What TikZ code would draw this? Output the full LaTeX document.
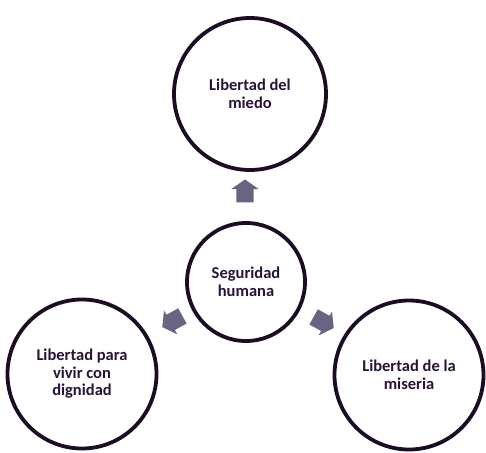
\documentclass[tikz,border=0pt]{standalone}
\usepackage{fontspec}
\setmainfont{Carlito}
\usetikzlibrary{shapes.arrows}
\definecolor{ink}{RGB}{28,12,36}
\definecolor{txt}{RGB}{40,20,55}
\definecolor{arr}{RGB}{105,100,130}
\begin{document}
\begin{tikzpicture}[x=1pt,y=-1pt,
  bubble/.style={circle,draw=ink,line width=3.8pt,fill=white,align=center,
    text=txt,font=\bfseries\fontsize{16.5}{17.5}\selectfont,inner sep=0pt},
  blockarrow/.style={single arrow,fill=arr,draw=none,minimum height=23pt,
    inner xsep=0pt,inner ysep=8.5pt,single arrow head extend=5pt,
    single arrow tip angle=110}]
\useasboundingbox (0,0) rectangle (486,452);
\fill[white] (0,0) rectangle (486,452);
\node[bubble,minimum size=152pt] (top) at (250,94) {Libertad del\\miedo};
\node[bubble,minimum size=118pt] (mid) at (246,282) {Seguridad\\humana};
\node[bubble,minimum size=149pt] (left) at (82,374) {Libertad para\\vivir con\\dignidad};
\node[bubble,minimum size=149pt] (right) at (409,375) {Libertad de la\\miseria};
\node[blockarrow,rotate=90] (atop) at (245,194) {};
\node[blockarrow,rotate=209] (aleft) at (175,320) {};
\node[blockarrow,rotate=-29] (aright) at (321,321) {};
\end{tikzpicture}
\end{document}
